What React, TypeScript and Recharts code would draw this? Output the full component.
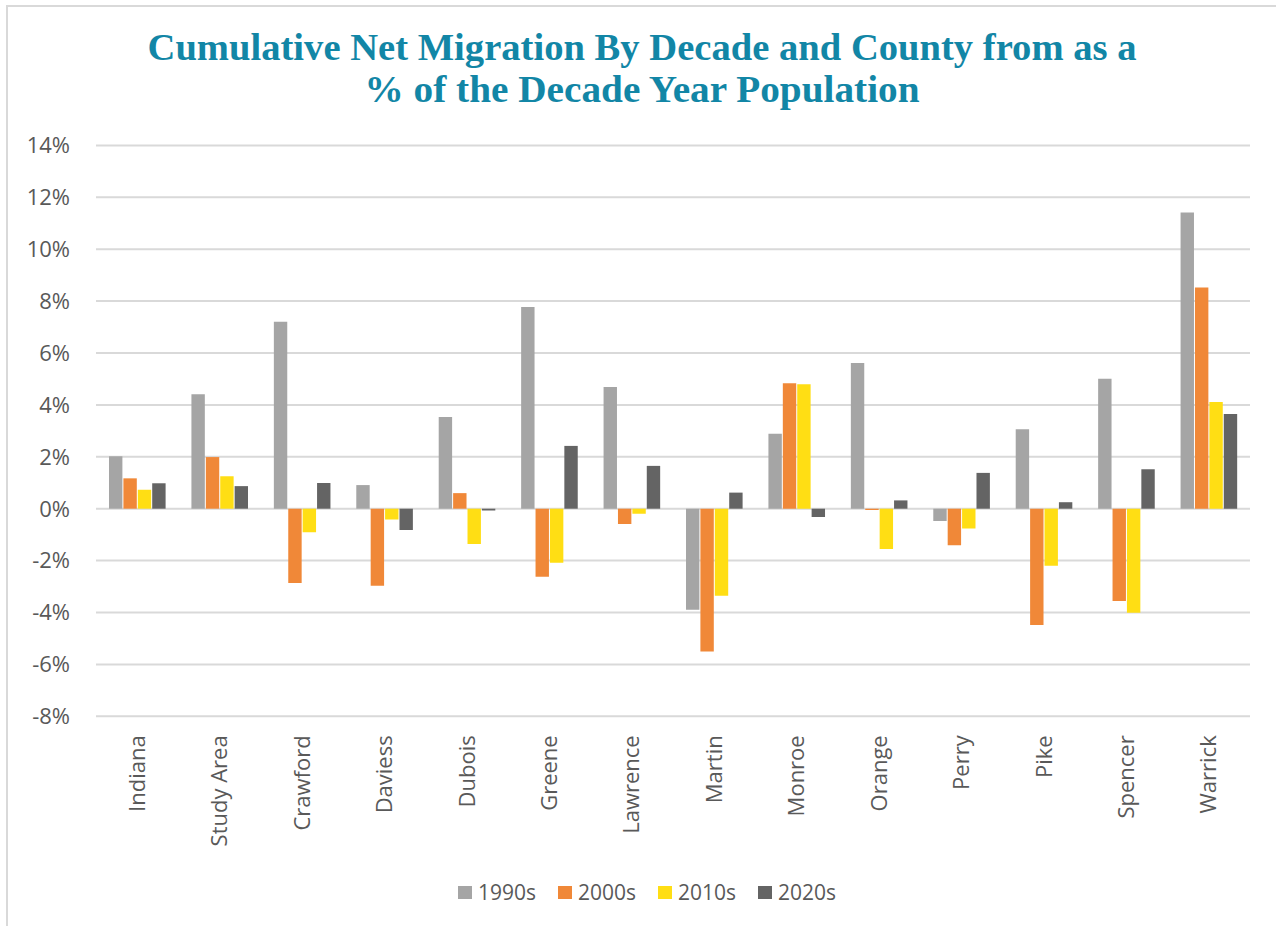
import React from 'react';
import { BarChart, Bar, XAxis, YAxis, CartesianGrid, Legend } from 'recharts';

const counties = ['Indiana', 'Study Area', 'Crawford', 'Daviess', 'Dubois', 'Greene', 'Lawrence', 'Martin', 'Monroe', 'Orange', 'Perry', 'Pike', 'Spencer', 'Warrick'];
const s1990 = [2.02, 4.41, 7.2, 0.91, 3.53, 7.77, 4.69, -3.89, 2.89, 5.61, -0.47, 3.06, 5.01, 11.41];
const s2000 = [1.17, 1.99, -2.86, -2.97, 0.6, -2.62, -0.59, -5.5, 4.83, -0.05, -1.41, -4.48, -3.56, 8.52];
const s2010 = [0.73, 1.25, -0.91, -0.42, -1.36, -2.08, -0.19, -3.35, 4.8, -1.55, -0.76, -2.2, -4.01, 4.11];
const s2020 = [0.98, 0.87, 0.99, -0.82, -0.07, 2.42, 1.65, 0.62, -0.32, 0.32, 1.38, 0.25, 1.52, 3.65];
const yTicks = [-8, -6, -4, -2, 0, 2, 4, 6, 8, 10, 12, 14];
const seriesNames = ['1990s', '2000s', '2010s', '2020s'];
const seriesColors = ['#A5A5A5', '#F08838', '#FFDE14', '#646464'];
const titleLines = ['Cumulative Net Migration By Decade and County from as a', '% of the Decade Year Population'];

const data = counties.map((name, i) => ({
  name,
  '1990s': s1990[i],
  '2000s': s2000[i],
  '2010s': s2010[i],
  '2020s': s2020[i],
}));

const FONT = '"Open Sans", "Liberation Sans", sans-serif';
const TEXT = '#595959';

const XTick = (props: any) => {
  const { x, y, payload } = props;
  const ty = y + 19;
  return (
    <text
      x={x}
      y={ty}
      dy="0.35em"
      transform={`rotate(-90 ${x} ${ty})`}
      textAnchor="end"
      fill={TEXT}
      fontSize={22}
      fontFamily={FONT}
    >
      {payload.value}
    </text>
  );
};

const LegendContent = () => (
  <div
    style={{
      display: 'flex',
      justifyContent: 'center',
      alignItems: 'center',
      gap: 22,
      width: 1276,
      height: 28,
      fontFamily: FONT,
      fontSize: 21,
      color: TEXT,
    }}
  >
    {seriesNames.map((n, i) => (
      <div key={n} style={{ display: 'flex', alignItems: 'center' }}>
        <div style={{ width: 14, height: 13, background: seriesColors[i], marginRight: 6 }} />
        <span style={{ lineHeight: '28px' }}>{n}</span>
      </div>
    ))}
  </div>
);

export default function App() {
  return (
    <div style={{ position: 'absolute', left: 0, top: 0, width: 1276, height: 926, overflow: 'hidden', background: '#fff' }}>
      <div
        style={{
          position: 'absolute',
          left: 6,
          top: 5,
          width: 1290,
          height: 940,
          border: '2px solid #D9D9D9',
          boxSizing: 'border-box',
        }}
      />
      <svg style={{ position: 'absolute', left: 0, top: 0 }} width={1276} height={130}>
        <text
          x={642}
          y={60}
          textAnchor="middle"
          fill="#1286A6"
          fontSize={38}
          fontWeight="bold"
          fontFamily='"Liberation Serif", "DejaVu Serif", serif'
          textLength={989}
          lengthAdjust="spacingAndGlyphs"
        >
          {titleLines[0]}
        </text>
        <text
          x={642}
          y={102}
          textAnchor="middle"
          fill="#1286A6"
          fontSize={38}
          fontWeight="bold"
          fontFamily='"Liberation Serif", "DejaVu Serif", serif'
          textLength={555}
          lengthAdjust="spacingAndGlyphs"
        >
          {titleLines[1]}
        </text>
      </svg>
      <div style={{ position: 'absolute', left: 0, top: 0 }}>
        <BarChart
          width={1276}
          height={926}
          data={data}
          margin={{ top: 145.4, right: 26, bottom: 89.7, left: 10 }}
          barGap={1}
          barSize={13.4}
        >
          <CartesianGrid vertical={false} stroke="#D9D9D9" strokeWidth={2} />
          <XAxis
            dataKey="name"
            type="category"
            interval={0}
            axisLine={false}
            tickLine={false}
            tickSize={0}
            tickMargin={0}
            height={120}
            tick={<XTick />}
          />
          <YAxis
            type="number"
            domain={[-8, 14]}
            ticks={yTicks}
            width={86}
            axisLine={false}
            tickLine={false}
            tickSize={0}
            tickMargin={26}
            tickFormatter={(v: number) => `${v}%`}
            tick={{ fill: TEXT, fontSize: 22, fontFamily: FONT }}
            allowDataOverflow
          />
          <Legend
            layout="vertical"
            align="center"
            verticalAlign="middle"
            content={<LegendContent />}
            wrapperStyle={{ position: 'absolute', top: 878, left: 9, width: 1276, height: 28 }}
          />
          {seriesNames.map((n, i) => (
            <Bar key={n} dataKey={n} fill={seriesColors[i]} isAnimationActive={false} />
          ))}
        </BarChart>
      </div>
    </div>
  );
}
